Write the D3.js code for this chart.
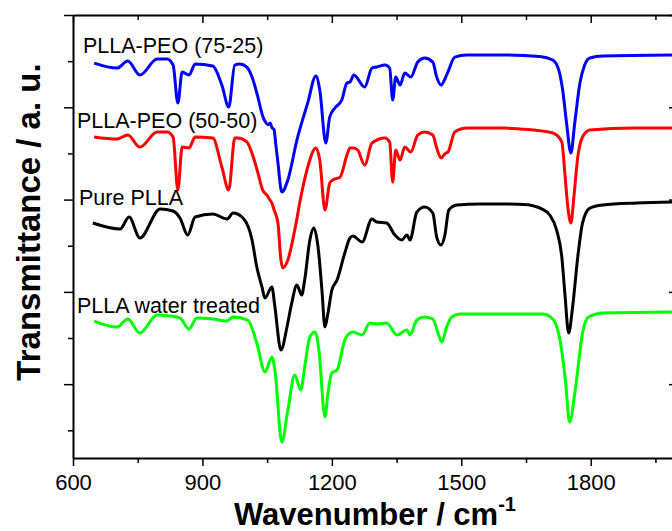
<!DOCTYPE html>
<html>
<head>
<meta charset="utf-8">
<script src="https://cdn.jsdelivr.net/npm/d3@7/dist/d3.min.js"></script>
<style>
  body { margin: 0; background: #fff; }
  svg { display: block; }
  text { font-family: "Liberation Sans", Arial, sans-serif; }
</style>
</head>
<body>
<svg id="chart" width="672" height="531"></svg>
<script>
// Axis ticks (wavenumber in cm^-1, transmittance in arbitrary offset units)
const majorTicksX = [600, 900, 1200, 1500, 1800];
const minorTicksX = [750, 1050, 1350, 1650, 1950];
const majorTicksY = [1, 2, 3, 4, 5];
const minorTicksY = [0.5, 1.5, 2.5, 3.5, 4.5];

// FTIR spectra, [wavenumber, transmittance] (curves are vertically offset)
const plla7525 = [
  [649,4.479],[702,4.425],[727,4.501],[755,4.349],[795,4.523],[818,4.523],[832,4.458],
  [843,4.046],[853,4.382],[869,4.349],[883,4.469],[924,4.447],[945,4.241],[961,4.003],
  [975,4.458],[987,4.469],[1003,4.436],[1015,4.328],[1028,4.12],[1040,3.90],[1046,3.84],
  [1052,3.81],[1057,3.83],[1061,3.78],[1066,3.76],[1070,3.60],[1075,3.40],[1084,3.082],
  [1098,3.212],[1119,3.645],[1144,4.046],[1163,4.339],[1172,4.187],[1186,3.613],
  [1195,3.894],[1207,3.992],[1223,4.079],[1235,4.263],[1242,4.274],[1251,4.349],
  [1276,4.219],[1293,4.425],[1304,4.436],[1323,4.458],[1334,4.425],[1341,4.079],
  [1348,4.328],[1358,4.241],[1369,4.371],[1383,4.328],[1399,4.490],[1415,4.534],
  [1434,4.490],[1443,4.328],[1453,4.241],[1464,4.328],[1469,4.382],[1485,4.544],
  [1513,4.566],[1600,4.566],[1682,4.55],[1712,4.512],[1726,4.403],[1735,4.187],
  [1744,3.830],[1754,3.504],[1763,3.830],[1775,4.263],[1786,4.458],[1798,4.534],
  [1828,4.555],[2000,4.566]
];
const plla5050 = [
  [649,3.678],[702,3.656],[727,3.699],[755,3.569],[795,3.732],[818,3.732],[832,3.678],
  [843,3.104],[853,3.569],[869,3.559],[883,3.678],[924,3.667],[945,3.353],[961,3.104],
  [975,3.667],[982,3.667],[1003,3.624],[1015,3.50],[1028,3.30],[1040,3.10],[1049,3.05],
  [1056,3.00],[1061,2.963],[1066,2.89],[1075,2.746],[1082,2.345],[1086,2.259],
  [1098,2.345],[1114,2.67],[1130,3.071],[1144,3.35],[1163,3.559],[1172,3.429],
  [1184,2.887],[1195,3.179],[1202,3.212],[1219,3.244],[1235,3.483],[1242,3.56],
  [1251,3.559],[1260,3.537],[1276,3.374],[1293,3.613],[1323,3.667],[1334,3.624],
  [1341,3.190],[1348,3.537],[1358,3.429],[1369,3.569],[1383,3.515],[1399,3.699],
  [1415,3.732],[1434,3.699],[1443,3.559],[1453,3.450],[1464,3.504],[1469,3.515],
  [1485,3.732],[1513,3.775],[1600,3.775],[1636,3.765],[1712,3.721],[1733,3.624],
  [1740,3.288],[1747,2.919],[1754,2.746],[1761,3.028],[1770,3.461],[1781,3.678],
  [1798,3.754],[1900,3.775],[2000,3.775]
];
const pllaPure = [
  [646,2.746],[709,2.681],[730,2.811],[755,2.584],[802,2.898],[832,2.876],[848,2.800],
  [866,2.616],[883,2.811],[924,2.844],[957,2.789],[971,2.854],[994,2.800],[1015,2.562],
  [1026,2.269],[1038,2.053],[1045,1.934],[1061,2.053],[1068,1.836],[1082,1.370],
  [1096,1.619],[1107,1.879],[1119,2.074],[1130,1.966],[1137,2.129],[1149,2.562],
  [1158,2.692],[1168,2.486],[1177,2.020],[1184,1.619],[1191,1.771],[1200,2.020],
  [1212,2.129],[1230,2.421],[1242,2.584],[1249,2.605],[1270,2.540],[1293,2.789],
  [1304,2.757],[1327,2.746],[1346,2.616],[1362,2.562],[1374,2.616],[1381,2.562],
  [1397,2.865],[1415,2.919],[1434,2.854],[1443,2.594],[1453,2.508],[1462,2.616],
  [1471,2.887],[1490,2.941],[1543,2.952],[1596,2.952],[1655,2.945],[1672,2.925],
  [1686,2.900],[1705,2.833],[1721,2.670],[1733,2.378],[1740,1.988],[1749,1.554],
  [1758,1.836],[1770,2.378],[1781,2.746],[1798,2.908],[1828,2.941],[1907,2.963],
  [2000,2.974]
];
const pllaWater = [
  [649,1.684],[702,1.619],[727,1.706],[755,1.555],[795,1.749],[825,1.738],[848,1.717],
  [869,1.598],[887,1.717],[924,1.706],[957,1.684],[971,1.728],[1005,1.695],[1026,1.446],
  [1045,1.132],[1061,1.294],[1068,1.153],[1084,0.373],[1098,0.720],[1114,1.099],
  [1128,0.937],[1137,1.186],[1149,1.511],[1161,1.565],[1170,1.370],[1184,0.644],
  [1191,0.904],[1200,1.121],[1212,1.153],[1230,1.478],[1242,1.555],[1249,1.565],
  [1270,1.533],[1288,1.663],[1304,1.652],[1327,1.663],[1351,1.533],[1374,1.587],
  [1381,1.533],[1397,1.695],[1415,1.728],[1434,1.706],[1446,1.555],[1455,1.457],
  [1466,1.619],[1478,1.728],[1497,1.760],[1689,1.760],[1714,1.695],[1730,1.446],
  [1742,1.013],[1751,0.590],[1765,0.969],[1781,1.555],[1795,1.728],[1828,1.771],
  [2000,1.782]
];

const seriesLabels = ["PLLA-PEO (75-25)", "PLLA-PEO (50-50)", "Pure PLLA", "PLLA water treated"];
const seriesColors = ["#0000ff", "#ff0000", "#000000", "#00ff00"];
const seriesData = [plla7525, plla5050, pllaPure, pllaWater];

const svg = d3.select("#chart");
const plotLeft = 73, plotRight = 677, plotTop = 15, plotBottom = 458;

const x = d3.scaleLinear().domain([600, 2000]).range([plotLeft, plotRight]);
const y = d3.scaleLinear().domain([0.2, 5]).range([plotBottom, plotTop]);

// spectra
const line = d3.line()
  .x(d => x(d[0]))
  .y(d => y(d[1]))
  .curve(d3.curveMonotoneX);

svg.append("g").selectAll("path")
  .data(seriesData)
  .join("path")
  .attr("d", line)
  .attr("fill", "none")
  .attr("stroke", (d, i) => seriesColors[i])
  .attr("stroke-width", 3)
  .attr("stroke-linejoin", "round");

// frame axes
function styleAxis(g) {
  g.selectAll(".domain").attr("stroke", "#000").attr("stroke-width", 2);
  g.selectAll(".tick line").attr("stroke", "#000").attr("stroke-width", 1.5);
}

const fmt = d3.format("d");

// bottom
svg.append("g").attr("transform", `translate(0,${plotBottom})`)
  .call(d3.axisBottom(x).tickValues(majorTicksX).tickSize(8).tickSizeOuter(0).tickPadding(8).tickFormat(fmt))
  .call(styleAxis)
  .call(g => g.selectAll(".tick text").attr("font-size", 22).attr("fill", "#000")
    .attr("font-family", "'Liberation Sans', Arial, sans-serif"));
svg.append("g").attr("transform", `translate(0,${plotBottom})`)
  .call(d3.axisBottom(x).tickValues(minorTicksX).tickSize(5).tickSizeOuter(0).tickFormat(""))
  .call(styleAxis).call(g => g.select(".domain").remove());

// top
svg.append("g").attr("transform", `translate(0,${plotTop})`)
  .call(d3.axisTop(x).tickValues(majorTicksX).tickSize(-8).tickSizeOuter(0).tickFormat(""))
  .call(styleAxis);
svg.append("g").attr("transform", `translate(0,${plotTop})`)
  .call(d3.axisTop(x).tickValues(minorTicksX).tickSize(-5).tickSizeOuter(0).tickFormat(""))
  .call(styleAxis).call(g => g.select(".domain").remove());

// left
svg.append("g").attr("transform", `translate(${plotLeft},0)`)
  .call(d3.axisLeft(y).tickValues(majorTicksY).tickSize(9).tickSizeOuter(0).tickFormat(""))
  .call(styleAxis);
svg.append("g").attr("transform", `translate(${plotLeft},0)`)
  .call(d3.axisLeft(y).tickValues(minorTicksY).tickSize(5).tickSizeOuter(0).tickFormat(""))
  .call(styleAxis).call(g => g.select(".domain").remove());

// right
svg.append("g").attr("transform", `translate(${plotRight},0)`)
  .call(d3.axisRight(y).tickValues(majorTicksY).tickSize(-8).tickSizeOuter(0).tickFormat(""))
  .call(styleAxis);
svg.append("g").attr("transform", `translate(${plotRight},0)`)
  .call(d3.axisRight(y).tickValues(minorTicksY).tickSize(-5).tickSizeOuter(0).tickFormat(""))
  .call(styleAxis).call(g => g.select(".domain").remove());

// series labels
const labelPos = [[83, 53], [77, 128], [79, 205], [77, 313]];
svg.append("g").selectAll("text")
  .data(seriesLabels)
  .join("text")
  .attr("x", (d, i) => labelPos[i][0])
  .attr("y", (d, i) => labelPos[i][1])
  .attr("font-size", 21.5)
  .attr("fill", "#000")
  .text(d => d);

// axis titles
const xTitle = svg.append("text")
  .attr("x", (plotLeft + plotRight) / 2)
  .attr("y", 525)
  .attr("text-anchor", "middle")
  .attr("font-size", 31)
  .attr("font-weight", "bold")
  .attr("fill", "#000");
xTitle.append("tspan").text("Wavenumber / cm");
xTitle.append("tspan").attr("font-size", 20).attr("dy", -14).text("-1");

svg.append("text")
  .attr("transform", `translate(40,222) rotate(-90)`)
  .attr("text-anchor", "middle")
  .attr("font-size", 33)
  .attr("font-weight", "bold")
  .attr("fill", "#000")
  .text("Transmittance / a. u.");
</script>
</body>
</html>
